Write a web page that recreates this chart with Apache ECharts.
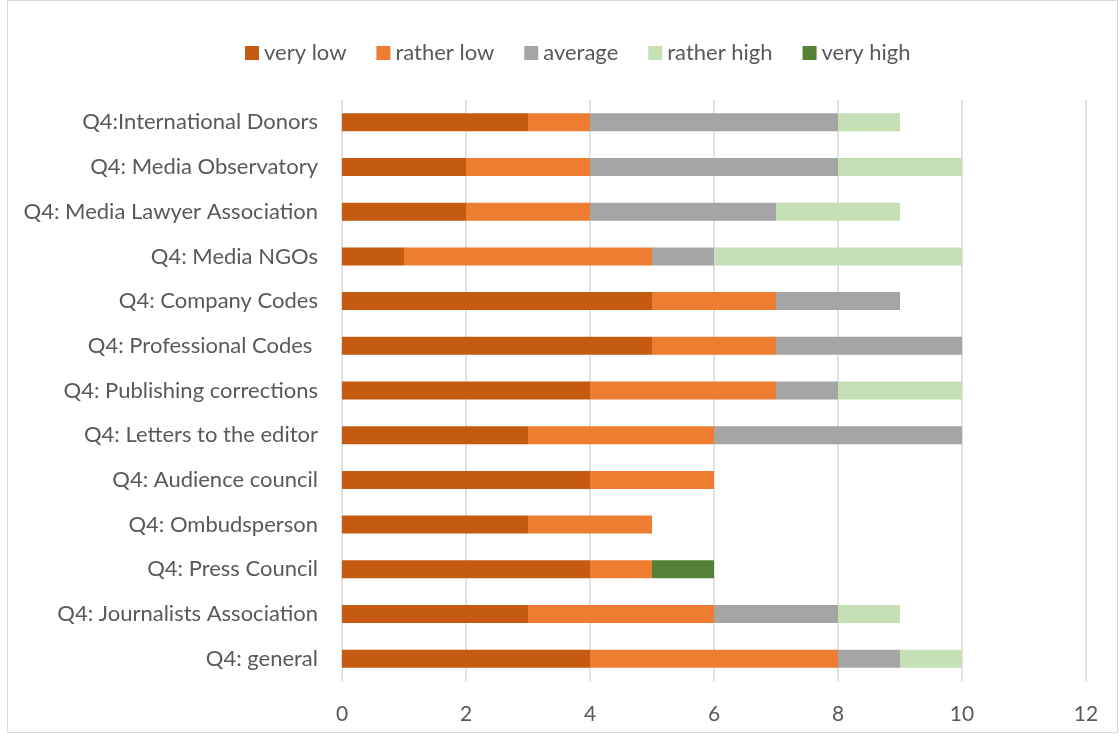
<!DOCTYPE html>
<html>
<head>
<meta charset="utf-8">
<script src="https://cdn.jsdelivr.net/npm/echarts@6/dist/echarts.min.js"></script>
<style>
  html, body { margin: 0; padding: 0; background: #fff; }
  #frame { position: absolute; left: 7px; top: 0; width: 1111px; height: 733px; border: 1px solid #d9d9d9; box-sizing: border-box; }
  #chart { position: absolute; left: 0; top: 0; width: 1120px; height: 739px; }
</style>
</head>
<body>
<div id="frame"></div>
<div id="chart"></div>
<script>
// Categories listed bottom-to-top (category axis on y starts at the bottom)
const categories = [
  'Q4: general',
  'Q4: Journalists Association',
  'Q4: Press Council',
  'Q4: Ombudsperson',
  'Q4: Audience council',
  'Q4: Letters to the editor',
  'Q4: Publishing corrections',
  'Q4: Professional Codes ',
  'Q4: Company Codes',
  'Q4: Media NGOs',
  'Q4: Media Lawyer Association',
  'Q4: Media Observatory',
  'Q4:International Donors'
];

const seriesNames = ['very low', 'rather low', 'average', 'rather high', 'very high'];
const veryLow    = [4, 3, 4, 3, 4, 3, 4, 5, 5, 1, 2, 2, 3];
const ratherLow  = [4, 3, 1, 2, 2, 3, 3, 2, 2, 4, 2, 2, 1];
const average    = [1, 2, 0, 0, 0, 4, 1, 3, 2, 1, 3, 4, 4];
const ratherHigh = [1, 1, 0, 0, 0, 0, 2, 0, 0, 4, 2, 2, 1];
const veryHigh   = [0, 0, 1, 0, 0, 0, 0, 0, 0, 0, 0, 0, 0];

const xTicks = { min: 0, max: 12, interval: 2 };
const colors = ['#C55A11', '#ED7D31', '#A5A5A5', '#C5E0B4', '#538135'];

const FONT = 'Lato, "Open Sans", sans-serif';
const values = [veryLow, ratherLow, average, ratherHigh, veryHigh];

const chart = echarts.init(document.getElementById('chart'), null, { renderer: 'canvas' });
chart.setOption({
  animation: false,
  color: colors,
  textStyle: { fontFamily: FONT },
  legend: {
    top: 37,
    left: 240,
    itemWidth: 14,
    itemHeight: 14,
    itemGap: 30,
    icon: 'rect',
    textStyle: { fontSize: 22, color: '#595959', fontFamily: FONT },
    data: seriesNames
  },
  grid: { left: 342, right: 34, top: 100, bottom: 58, containLabel: false },
  xAxis: {
    type: 'value',
    min: xTicks.min,
    max: xTicks.max,
    interval: xTicks.interval,
    axisLine: { show: false },
    axisTick: { show: false },
    axisLabel: { color: '#595959', fontSize: 21, margin: 23, fontFamily: FONT },
    splitLine: { show: true, lineStyle: { color: '#d9d9d9', width: 1.5 } }
  },
  yAxis: {
    type: 'category',
    data: categories,
    axisLine: { show: false },
    axisTick: { show: false },
    axisLabel: { color: '#595959', fontSize: 22, margin: 24, fontFamily: FONT }
  },
  series: seriesNames.map((name, i) => ({
    name,
    type: 'bar',
    stack: 'total',
    barWidth: 18,
    data: values[i],
    itemStyle: { color: colors[i] }
  }))
});
</script>
</body>
</html>
